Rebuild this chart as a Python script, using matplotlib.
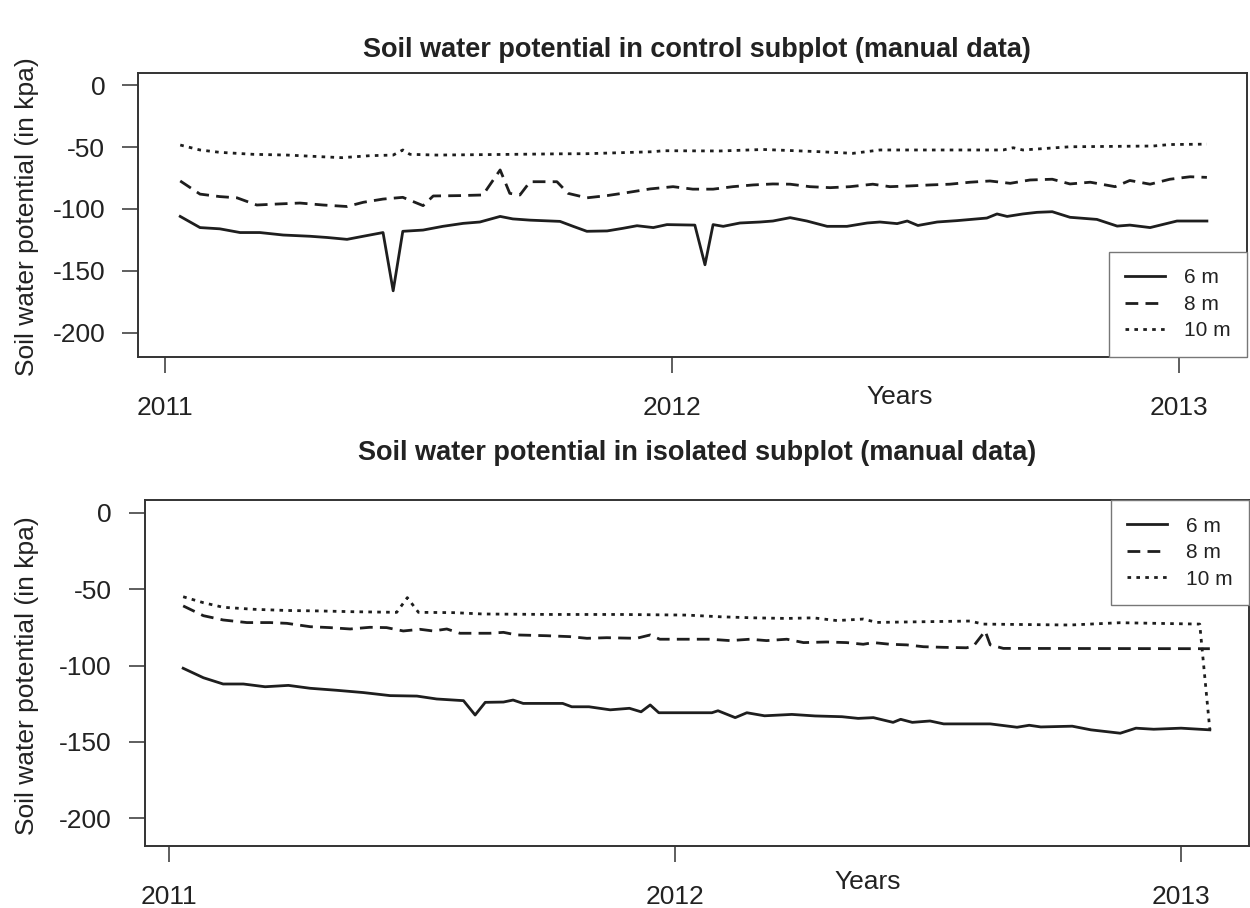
import matplotlib
matplotlib.use("Agg")
import matplotlib.pyplot as plt

plt.rcParams['font.family'] = ['Liberation Sans', 'DejaVu Sans']
plt.rcParams['axes.unicode_minus'] = False

# ---------------- data (decimal years, soil water potential in kPa) ----------------
# Control subplot
ctrl_6m_t = [2011.030, 2011.069, 2011.108, 2011.148, 2011.187, 2011.233, 2011.286, 2011.320, 2011.359,
             2011.391, 2011.430, 2011.450, 2011.469, 2011.509, 2011.548, 2011.588, 2011.621, 2011.661,
             2011.686, 2011.720, 2011.779, 2011.805, 2011.832, 2011.872, 2011.903, 2011.931, 2011.963,
             2011.990, 2012.045, 2012.065, 2012.081, 2012.101, 2012.134, 2012.174, 2012.199, 2012.233,
             2012.266, 2012.306, 2012.345, 2012.385, 2012.410, 2012.444, 2012.464, 2012.485, 2012.523,
             2012.562, 2012.621, 2012.641, 2012.661, 2012.692, 2012.720, 2012.750, 2012.785, 2012.838,
             2012.878, 2012.903, 2012.943, 2012.996, 2013.055]
ctrl_6m_kpa = [-106, -115, -116, -119, -119, -121, -122, -123, -124.5,
               -122, -119, -166, -118, -117, -114, -111.6, -110.5, -106,
               -108, -109, -110, -114, -118, -117.7, -115.6, -113.5, -115,
               -112.6, -113, -145, -112.6, -114, -111.3, -110.5, -109.7, -107,
               -109.7, -114, -114, -111.3, -110.5, -111.8, -109.7, -113.3, -110.5,
               -109.4, -107.3, -104, -106, -104, -102.7, -102.2, -106.7, -108.4,
               -113.8, -113, -115, -109.7, -109.7]

ctrl_8m_t = [2011.030, 2011.069, 2011.108, 2011.142, 2011.181, 2011.221, 2011.266, 2011.312, 2011.359,
             2011.391, 2011.430, 2011.469, 2011.509, 2011.529, 2011.582, 2011.627, 2011.661, 2011.680,
             2011.700, 2011.720, 2011.773, 2011.795, 2011.832, 2011.872, 2011.911, 2011.957, 2012.002,
             2012.041, 2012.081, 2012.120, 2012.160, 2012.199, 2012.233, 2012.272, 2012.312, 2012.351,
             2012.396, 2012.430, 2012.469, 2012.509, 2012.548, 2012.588, 2012.627, 2012.667, 2012.706,
             2012.750, 2012.785, 2012.825, 2012.874, 2012.903, 2012.943, 2012.982, 2013.022, 2013.055]
ctrl_8m_kpa = [-77.4, -88, -90, -91, -96.8, -96, -95.2, -96.8, -98,
               -94.6, -92, -90.6, -97.3, -89.5, -89.2, -88.7, -68.5, -87.4,
               -88.7, -78, -78, -87.4, -91, -89.2, -86.8, -83.8, -82,
               -84, -84, -82, -80.6, -79.8, -80, -82, -82.8, -82,
               -80, -82, -81.4, -80.6, -80, -78.4, -77.4, -79.3, -76.6,
               -76, -79.8, -78.4, -82, -77, -80, -76, -74, -74.5]

ctrl_10m_t = [2011.030, 2011.069, 2011.108, 2011.174, 2011.241, 2011.306, 2011.349, 2011.404, 2011.450,
              2011.469, 2011.483, 2011.536, 2011.667, 2011.779, 2011.832, 2011.963, 2011.982, 2012.095,
              2012.180, 2012.292, 2012.357, 2012.410, 2012.653, 2012.673, 2012.692, 2012.785, 2012.949,
              2012.982, 2013.055]
ctrl_10m_kpa = [-48.4, -52.4, -54.3, -55.9, -56.5, -57.8, -58.6, -57, -56.5,
                -52.4, -55.9, -56.5, -56, -55.5, -55.4, -53.8, -53, -53.2,
                -52, -53.8, -55.1, -52.4, -52.4, -50.6, -52.4, -49.8, -49.2,
                -48, -47.7]

# Isolated subplot
iso_6m_t = [2011.028, 2011.068, 2011.107, 2011.147, 2011.190, 2011.236, 2011.279, 2011.331, 2011.384,
            2011.437, 2011.490, 2011.529, 2011.582, 2011.605, 2011.625, 2011.661, 2011.680, 2011.700,
            2011.778, 2011.796, 2011.830, 2011.872, 2011.910, 2011.933, 2011.951, 2011.968, 2012.073,
            2012.085, 2012.119, 2012.142, 2012.177, 2012.231, 2012.277, 2012.330, 2012.362, 2012.392,
            2012.431, 2012.446, 2012.469, 2012.504, 2012.531, 2012.623, 2012.676, 2012.700, 2012.723,
            2012.785, 2012.822, 2012.880, 2012.911, 2012.946, 2013.000, 2013.057]
iso_6m_kpa = [-101.8, -108, -112.1, -112.1, -113.9, -113, -114.9, -116.2, -117.7,
              -119.7, -120, -121.9, -123, -132.4, -124.1, -123.9, -122.6, -124.8,
              -124.8, -127, -127, -129, -128, -130.3, -125.8, -130.9, -130.9,
              -129.6, -134.1, -130.9, -132.9, -132, -133, -133.5, -134.6, -134.1,
              -137.2, -135.2, -137.2, -136.3, -138.2, -138.2, -140.4, -139.1, -140.2,
              -139.7, -142.1, -144.3, -141, -141.7, -141, -142.1]

iso_8m_t = [2011.028, 2011.068, 2011.107, 2011.154, 2011.200, 2011.233, 2011.279, 2011.318, 2011.358,
            2011.397, 2011.430, 2011.463, 2011.496, 2011.522, 2011.549, 2011.575, 2011.634, 2011.661,
            2011.687, 2011.746, 2011.792, 2011.826, 2011.865, 2011.924, 2011.951, 2011.970, 2012.069,
            2012.109, 2012.148, 2012.181, 2012.221, 2012.254, 2012.300, 2012.339, 2012.372, 2012.392,
            2012.425, 2012.458, 2012.491, 2012.530, 2012.576, 2012.590, 2012.613, 2012.623, 2012.649,
            2013.057]
iso_8m_kpa = [-61, -67.4, -70.2, -71.9, -71.9, -72.4, -74.6, -75.2, -76.1,
              -75, -75.2, -77.4, -76.3, -77.4, -76.1, -78.9, -78.9, -78.3,
              -80, -80.5, -81.1, -82.2, -81.8, -82.2, -80, -82.8, -82.8,
              -83.7, -82.8, -83.7, -82.8, -85, -84.6, -85, -86.1, -85,
              -86.1, -86.5, -87.7, -88.1, -88.4, -87.3, -77.4, -86.5, -88.8,
              -89]

iso_10m_t = [2011.028, 2011.068, 2011.107, 2011.167, 2011.233, 2011.298, 2011.364, 2011.450, 2011.471,
             2011.493, 2011.562, 2011.621, 2011.759, 2011.891, 2012.023, 2012.089, 2012.155, 2012.221,
             2012.273, 2012.320, 2012.372, 2012.399, 2012.583, 2012.609, 2012.781, 2012.879, 2013.037,
             2013.057]
iso_10m_kpa = [-55, -58.9, -61.9, -63.2, -64, -64.3, -64.8, -65.2, -55.6,
               -65.2, -65.4, -66.3, -66.6, -66.6, -67, -68.1, -68.8, -69.2,
               -68.8, -70.6, -69.6, -71.8, -70.9, -72.9, -73.5, -72, -72.9,
               -142]

depth_labels = ["6 m", "8 m", "10 m"]
titles = ["Soil water potential in control subplot (manual data)",
          "Soil water potential in isolated subplot (manual data)"]
year_ticks = [2011, 2012, 2013]
year_labels = ["2011", "2012", "2013"]
kpa_ticks = [0, -50, -100, -150, -200]
kpa_labels = ["0", "-50", "-100", "-150", "-200"]

# ---------------- figure ----------------
W, H = 1250, 908
fig = plt.figure(figsize=(W / 100, H / 100), dpi=100)

LINE_COLOR = "#1e1e1e"
FRAME_COLOR = "#333333"
styles = ["-", (0, (4.6, 2.6)), (0, (1.3, 1.9))]


def px_axes(left, top, right, bottom):
    return fig.add_axes([left / W, 1 - bottom / H, (right - left) / W, (bottom - top) / H])


panels = [
    dict(box=(138, 73, 1247, 357), xlim=(2010.9467, 2013.1341), ylim=(-219.4, 9.7),
         series=[(ctrl_6m_t, ctrl_6m_kpa), (ctrl_8m_t, ctrl_8m_kpa), (ctrl_10m_t, ctrl_10m_kpa)],
         legend_loc="lower right", legend_anchor=(1, 0),
         title_y=57, ylabel_y=217, years_xy=(900, 397)),
    dict(box=(144.5, 500, 1249, 846), xlim=(2010.9516, 2013.1344), ylim=(-218.1, 8.3),
         series=[(iso_6m_t, iso_6m_kpa), (iso_8m_t, iso_8m_kpa), (iso_10m_t, iso_10m_kpa)],
         legend_loc="upper right", legend_anchor=(1, 1),
         title_y=460, ylabel_y=676, years_xy=(868, 882)),
]

for i, p in enumerate(panels):
    ax = px_axes(*p["box"])
    for (t, v), ls, lab in zip(p["series"], styles, depth_labels):
        ax.plot(t, v, color=LINE_COLOR, linewidth=2.0, linestyle=ls, label=lab)
    ax.set_xlim(*p["xlim"])
    ax.set_ylim(*p["ylim"])
    ax.set_xticks(year_ticks)
    ax.set_xticklabels(year_labels)
    ax.set_yticks(kpa_ticks)
    ax.set_yticklabels(kpa_labels)
    ax.tick_params(axis="both", direction="out", length=11.5, width=1.1,
                   color=FRAME_COLOR, labelsize=19, labelcolor="#222222")
    ax.tick_params(axis="x", pad=16.5)
    ax.tick_params(axis="y", pad=12)
    for s in ax.spines.values():
        s.set_color(FRAME_COLOR)
        s.set_linewidth(1.4)

    leg = ax.legend(loc=p["legend_loc"], bbox_to_anchor=p["legend_anchor"], borderaxespad=0,
                    fontsize=15, handlelength=1.9, handletextpad=0.9, borderpad=0.8,
                    labelspacing=0.36, fancybox=False, framealpha=1, edgecolor="#777777")
    leg.get_frame().set_linewidth(1.0)
    for txt in leg.get_texts():
        txt.set_color("#222222")

    fig.text(697 / W, 1 - p["title_y"] / H, titles[i], ha="center", va="baseline",
             fontsize=19.5, fontweight="bold", color="#222222")
    fig.text(27 / W, 1 - p["ylabel_y"] / H, "Soil water potential (in kpa)", rotation=90,
             ha="center", va="center", fontsize=19, color="#222222")
    fig.text(p["years_xy"][0] / W, 1 - p["years_xy"][1] / H, "Years", ha="center", va="center",
             fontsize=19, color="#222222")

fig.savefig("out.png", dpi=100)
